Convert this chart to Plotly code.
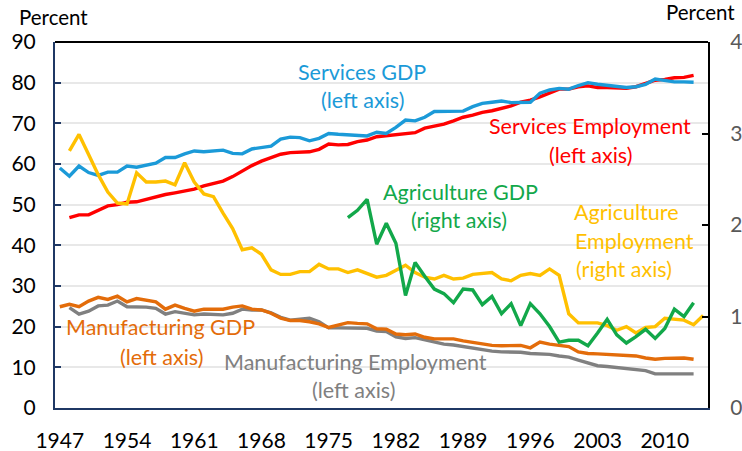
import plotly.graph_objects as go

# ---------------- data ----------------
services_gdp_start = 1947
services_gdp = [59.0, 57.0, 59.5, 57.9, 57.2, 58.0, 58.0, 59.5, 59.2, 59.6,
                60.2, 61.6, 61.6, 62.5, 63.2, 63.0, 63.1, 63.4, 62.6, 62.5,
                63.7, 64.0, 64.4, 66.1, 66.6, 66.5, 65.7, 66.3, 67.5, 67.3,
                67.2, 67.1, 66.9, 67.8, 67.5, 69.0, 70.8, 70.6, 71.5, 72.9,
                72.9, 72.8, 73.0, 74.1, 74.9, 75.2, 75.5, 75.1, 75.2, 75.2,
                77.4, 78.2, 78.6, 78.4, 79.3, 80.0, 79.6, 79.3, 79.0, 78.8,
                79.0, 79.6, 80.9, 80.6, 80.2, 80.2, 80.1]

services_emp_start = 1948
services_emp = [46.8, 47.5, 47.5, 48.7, 49.7, 50.0, 50.6, 50.7, 51.3, 52.0,
                52.5, 52.9, 53.4, 53.8, 54.6, 55.2, 55.8, 56.9, 58.3, 59.6,
                60.7, 61.6, 62.4, 62.8, 62.8, 63.0, 63.6, 64.9, 64.7, 64.8,
                65.5, 65.9, 66.7, 66.9, 67.3, 67.5, 67.7, 68.8, 69.3, 69.8,
                70.6, 71.5, 72.0, 72.7, 73.1, 73.7, 74.3, 75.2, 75.7, 76.5,
                77.5, 78.4, 78.4, 79.0, 79.2, 78.8, 78.8, 78.8, 78.6, 79.0,
                79.8, 80.6, 80.8, 81.2, 81.3, 81.8]

agri_emp_start = 1948
agri_emp = [2.81, 2.99, 2.77, 2.55, 2.36, 2.24, 2.23, 2.57, 2.47, 2.47,
            2.48, 2.44, 2.68, 2.47, 2.34, 2.31, 2.13, 1.96, 1.73, 1.75,
            1.68, 1.51, 1.46, 1.46, 1.49, 1.49, 1.57, 1.52, 1.52, 1.48,
            1.51, 1.47, 1.43, 1.45, 1.51, 1.56, 1.48, 1.43, 1.41, 1.45,
            1.41, 1.42, 1.46, 1.47, 1.48, 1.41, 1.39, 1.45, 1.47, 1.45,
            1.52, 1.45, 1.03, 0.93, 0.93, 0.93, 0.90, 0.85, 0.89, 0.82,
            0.88, 0.89, 0.98, 0.97, 0.96, 0.91, 1.01]

agri_gdp_start = 1977
agri_gdp = [2.08, 2.16, 2.28, 1.79, 2.02, 1.80, 1.23, 1.59, 1.44, 1.30,
            1.25, 1.15, 1.30, 1.29, 1.13, 1.22, 1.03, 1.14, 0.90, 1.14,
            1.03, 0.89, 0.72, 0.74, 0.74, 0.68, 0.82, 0.97, 0.80, 0.71,
            0.78, 0.86, 0.76, 0.87, 1.08, 1.00, 1.15]

manuf_gdp_start = 1947
manuf_gdp = [24.9, 25.5, 24.9, 26.3, 27.2, 26.7, 27.5, 26.1, 26.9, 26.6,
             26.1, 24.3, 25.3, 24.5, 23.8, 24.3, 24.3, 24.3, 24.8, 25.1,
             24.3, 24.1, 23.3, 22.1, 21.5, 21.5, 21.2, 20.7, 19.8, 20.4,
             21.0, 20.8, 20.7, 19.5, 19.4, 18.2, 18.0, 18.2, 17.4, 17.0,
             16.9, 17.0, 16.5, 16.1, 15.7, 15.4, 15.3, 15.4, 15.4, 14.8,
             16.2, 15.7, 15.4, 15.1, 13.8, 13.4, 13.3, 13.2, 13.0, 13.0,
             12.8, 12.3, 12.0, 12.2, 12.3, 12.3, 12.0]

manuf_emp_start = 1948
manuf_emp = [24.7, 23.1, 23.8, 25.1, 25.3, 26.3, 24.9, 24.9, 24.8, 24.5,
             23.1, 23.7, 23.4, 22.9, 23.1, 23.0, 22.9, 23.3, 24.3, 24.1,
             24.1, 23.4, 22.3, 21.6, 21.8, 22.1, 21.2, 19.7, 19.7, 19.7,
             19.7, 19.6, 18.9, 18.8, 17.5, 17.1, 17.3, 16.7, 16.1, 15.7,
             15.5, 15.1, 14.7, 14.3, 14.0, 13.8, 13.8, 13.7, 13.4, 13.3,
             13.2, 12.8, 12.5, 11.8, 11.0, 10.4, 10.2, 10.0, 9.8, 9.5,
             9.2, 8.4, 8.4, 8.4, 8.4, 8.4]

x_ticks = [1947, 1954, 1961, 1968, 1975, 1982, 1989, 1996, 2003, 2010]

# ---------------- style ----------------
FONT = "Lato"
ANN_SIZE = 21.5
TICK_SIZE = 21
C_BLUE = "#1B9AD8"
C_RED = "#FF0000"
C_GREEN = "#12A84A"
C_YELLOW = "#FFC000"
C_ORANGE = "#E36C0A"
C_GRAY = "#808080"
NAVY = "#1F3864"


def yrs(start, vals):
    return list(range(start, start + len(vals)))


fig = go.Figure()


def add(start, vals, color, axis="y"):
    fig.add_trace(go.Scatter(x=yrs(start, vals), y=vals, mode="lines",
                             line=dict(color=color, width=3.4),
                             yaxis=axis, showlegend=False, hoverinfo="skip"))


add(manuf_emp_start, manuf_emp, C_GRAY)
add(manuf_gdp_start, manuf_gdp, C_ORANGE)
add(agri_emp_start, agri_emp, C_YELLOW, "y2")
add(agri_gdp_start, agri_gdp, C_GREEN, "y2")
add(services_emp_start, services_emp, C_RED)
add(services_gdp_start, services_gdp, C_BLUE)

W, H = 742, 451
L, R, T, B = 55, 34, 42, 43
PW, PH = W - L - R, H - T - B


def px(X):
    return (X - L) / PW


def py(Y):
    return (H - B - Y) / PH


labels = [
    ("Services GDP", 362, 72, C_BLUE),
    ("(left axis)", 362, 100, C_BLUE),
    ("Services Employment", 590, 126, C_RED),
    ("(left axis)", 590, 155, C_RED),
    ("Agriculture GDP", 460, 192, C_GREEN),
    ("(right axis)", 459, 220, C_GREEN),
    ("Agriculture", 626, 212, C_YELLOW),
    ("Employment", 634, 241, C_YELLOW),
    ("(right axis)", 624, 269, C_YELLOW),
    ("Manufacturing GDP", 160, 327, C_ORANGE),
    ("(left axis)", 161, 357, C_ORANGE),
    ("Manufacturing Employment", 355, 362, C_GRAY),
    ("(left axis)", 353, 390, C_GRAY),
]
annotations = []
for text, X, Y, col in labels:
    annotations.append(dict(text=text, x=px(X), y=py(Y), xref="paper", yref="paper",
                            xanchor="center", yanchor="middle", showarrow=False,
                            font=dict(family=FONT, size=ANN_SIZE, color=col)))

annotations.append(dict(text="Percent", x=px(53), y=py(17), xref="paper", yref="paper",
                        xanchor="center", yanchor="middle", showarrow=False,
                        font=dict(family=FONT, size=20.5, color="black")))
annotations.append(dict(text="Percent", x=px(700), y=py(12), xref="paper", yref="paper",
                        xanchor="center", yanchor="middle", showarrow=False,
                        font=dict(family=FONT, size=20.5, color="black")))

fig.update_layout(
    width=W, height=H, autosize=False,
    margin=dict(l=L, r=R, t=T, b=B, pad=0, autoexpand=False),
    paper_bgcolor="white", plot_bgcolor="white",
    font=dict(family=FONT, size=TICK_SIZE, color="black"),
    annotations=annotations,
    xaxis=dict(range=[1946.5, 2014.5], tickmode="array", tickvals=x_ticks,
               ticktext=[str(t) for t in x_ticks], showgrid=False, zeroline=False,
               showline=True, linecolor=NAVY, linewidth=2, ticks="", automargin=False,
               ticklabelstandoff=13, tickfont=dict(family=FONT, size=TICK_SIZE, color="black")),
    yaxis=dict(range=[0, 90], dtick=10, tick0=0, showgrid=True, gridcolor="#E8E8E8",
               gridwidth=1.5, zeroline=False, showline=True, linecolor=NAVY, linewidth=2,
               ticks="inside", ticklen=6, tickcolor=NAVY, tickwidth=2, automargin=False,
               ticklabelstandoff=13, tickfont=dict(family=FONT, size=TICK_SIZE, color="black")),
    yaxis2=dict(range=[0, 4], dtick=1, tick0=0, overlaying="y", side="right",
                showgrid=False, zeroline=False, showline=True, linecolor="black",
                linewidth=2, ticks="inside", ticklen=6, tickcolor="black", tickwidth=2,
                automargin=False, ticklabelstandoff=16,
                tickfont=dict(family=FONT, size=TICK_SIZE, color="#595959")),
    shapes=[dict(type="line", xref="paper", yref="paper", x0=0, x1=1, y0=1, y1=1,
                 line=dict(color="black", width=2))],
)

fig.write_html("out.html",
               config={"displayModeBar": False},
               post_script="document.body.style.margin='0';"
                           "document.body.style.overflow='hidden';")
